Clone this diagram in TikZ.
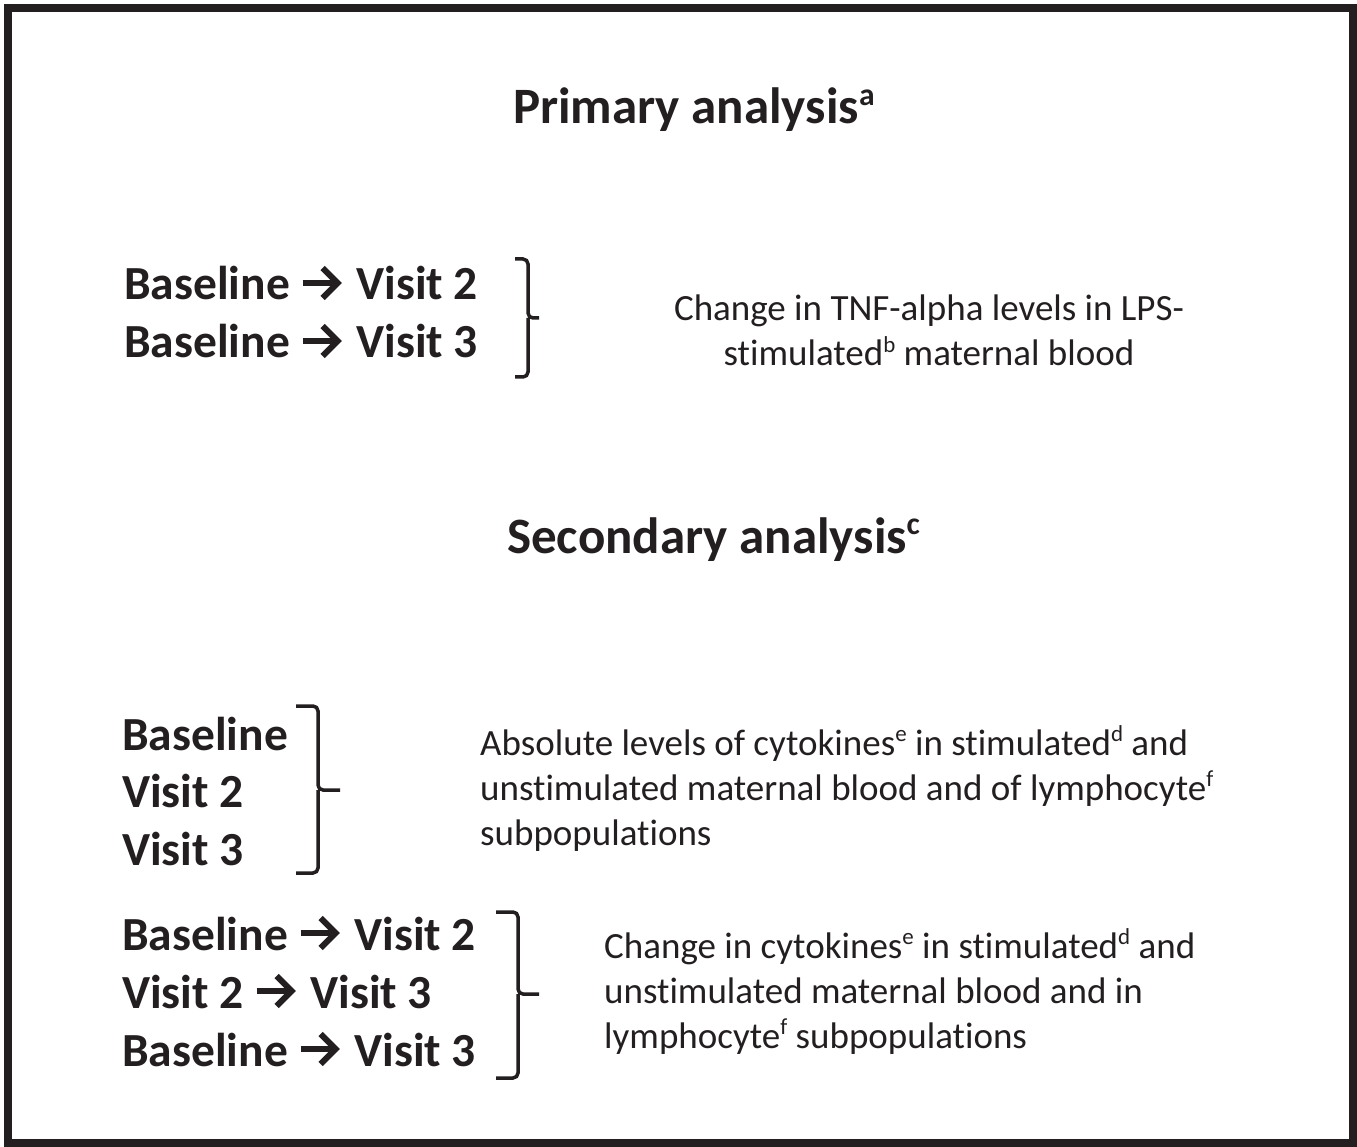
\documentclass[tikz,border=0pt]{standalone}
\usepackage{fontspec}
\setmainfont{Carlito}[Ligatures={NoCommon,TeX}]
\definecolor{ink}{HTML}{231F20}
\newcommand{\rarr}{\tikz[baseline=0pt,x=1pt,y=1pt]{\useasboundingbox (0,0) rectangle (45,34);
  \draw[draw=ink, line width=6pt, line cap=butt] (2,17) -- (36,17);
  \draw[draw=ink, line width=6pt, line cap=butt, line join=miter] (22,32) -- (37,17) -- (22,2);}}
\newcommand{\supsc}[1]{\raisebox{0.36em}{\scalebox{0.62}{#1}}}
\begin{document}
\begin{tikzpicture}[x=1pt,y=-1pt,
  every node/.style={inner sep=0pt, text=ink},
  titletext/.style={anchor=base west, font=\fontsize{51}{61}\selectfont\bfseries},
  itemtext/.style={anchor=base west, font=\fontsize{47.5}{58}\selectfont\bfseries},
  desctext/.style={anchor=base west, font=\fontsize{37}{45}\selectfont},
  desccenter/.style={anchor=base, font=\fontsize{37}{45}\selectfont},
  bracket/.style={draw=ink, line width=3.5pt, rounded corners=5pt}]
\useasboundingbox (0,0) rectangle (1357,1147);
\draw[ink, line width=8pt] (8,8) rectangle (1353,1143);

% titles
\node[titletext] (t1) at (513,124) {Primary analysis\supsc{a}};
\node[titletext] (t2) at (507,553) {Secondary analysis\supsc{c}};

% primary block
\node[itemtext] (p1) at (124,300) {Baseline \rarr{} Visit 2};
\node[itemtext] (p2) at (124,358) {Baseline \rarr{} Visit 3};
\node[desccenter] (pd1) at (929,321) {Change in TNF-alpha levels in LPS-};
\node[desccenter] (pd2) at (929,366) {stimulated\supsc{b} maternal blood};
\draw[bracket] (515,259) -- (528,259) -- (528,318) -- (539,318);
\draw[bracket] (515,377) -- (528,377) -- (528,318);

% secondary block 1
\node[itemtext] (s1) at (122,750) {Baseline};
\node[itemtext] (s2) at (122,807) {Visit 2};
\node[itemtext] (s3) at (122,865) {Visit 3};
\node[desctext] (sd1) at (480,755) {Absolute levels of cytokines\supsc{e} in stimulated\supsc{d} and};
\node[desctext] (sd2) at (480,800) {unstimulated maternal blood and of lymphocyte\supsc{f}};
\node[desctext] (sd3) at (480,845) {subpopulations};
\draw[bracket] (296,706) -- (318,706) -- (318,790) -- (340,790);
\draw[bracket] (296,873) -- (318,873) -- (318,790);

% secondary block 2
\node[itemtext] (c1) at (122,950) {Baseline \rarr{} Visit 2};
\node[itemtext] (c2) at (122,1008) {Visit 2 \rarr{} Visit 3};
\node[itemtext] (c3) at (122,1066) {Baseline \rarr{} Visit 3};
\node[desctext] (cd1) at (604,958) {Change in cytokines\supsc{e} in stimulated\supsc{d} and};
\node[desctext] (cd2) at (604,1003) {unstimulated maternal blood and in};
\node[desctext] (cd3) at (604,1048) {lymphocyte\supsc{f} subpopulations};
\draw[bracket] (496,912) -- (518,912) -- (518,994) -- (539,994);
\draw[bracket] (496,1078) -- (518,1078) -- (518,994);
\end{tikzpicture}
\end{document}
